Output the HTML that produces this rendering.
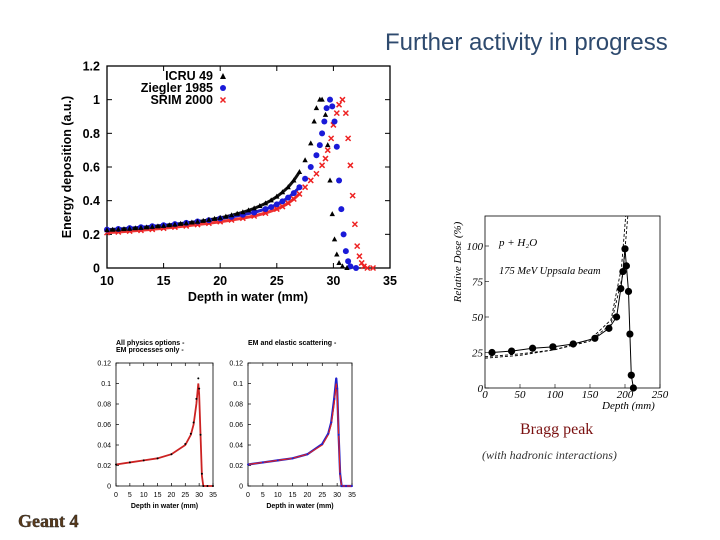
<!DOCTYPE html>
<html><head><meta charset="utf-8"><style>
body{margin:0;background:#fff;width:720px;height:540px;overflow:hidden}
svg{display:block}
</style></head><body>
<svg id="s" width="720" height="540" xmlns="http://www.w3.org/2000/svg">
<text x="385" y="50" font-family="Liberation Sans, sans-serif" font-size="24" fill="#2e4a6e">Further activity in progress</text>
<text x="520" y="434" font-family="Liberation Serif, serif" font-size="16" fill="#7a1010">Bragg peak</text>
<text x="482" y="459" font-family="Liberation Serif, serif" font-style="italic" font-size="12" fill="#333">(with hadronic interactions)</text>
<text x="18" y="527" font-family="Liberation Serif, serif" font-weight="bold" font-size="18" fill="#5a3a1a" stroke="#222" stroke-width="0.4">Geant 4</text>
<g id="main"></g>
<g id="sl"></g>
<g id="sr"></g>
<g id="bp"></g>
</svg>
<script>
const icruX=[10,10.5,11,11.5,12,12.5,13,13.5,14,14.5,15,15.5,16,16.5,17,17.5,18,18.5,19,19.5,20,20.5,21,21.5,22,22.5,23,23.5,24,24.5,25,25.5,26,26.5,27,27.5,28,28.3,28.5,28.8,29,29.3,29.5,29.7,29.9,30.1,30.3,30.5,30.8,31.2];
const icruY=[.225,.227,.229,.231,.233,.236,.238,.241,.244,.247,.25,.254,.258,.262,.266,.27,.275,.28,.286,.292,.298,.305,.313,.322,.331,.342,.354,.368,.384,.402,.424,.45,.48,.52,.57,.64,.74,.87,.95,1,1,.91,.73,.52,.32,.17,.08,.03,.01,0];
const zieX=[10,11,12,13,14,15,16,17,18,19,20,21,22,23,24,24.5,25,25.5,26,26.5,27,27.5,28,28.5,28.8,29,29.2,29.4,29.7,29.9,30.1,30.3,30.5,30.7,30.9,31.1,31.3,31.5,32];
const zieY=[.228,.232,.237,.242,.248,.254,.261,.268,.276,.284,.294,.304,.316,.33,.35,.362,.378,.396,.418,.445,.48,.53,.6,.67,.73,.8,.87,.95,1,.96,.87,.72,.52,.35,.2,.1,.04,.01,0];
const srimX=[10,11,12,13,14,15,16,17,18,19,20,21,22,23,24,25,25.5,26,26.5,27,27.5,28,28.5,29,29.3,29.5,29.8,30,30.3,30.5,30.8,31.1,31.3,31.5,31.7,31.9,32.1,32.3,32.5,32.7,33,33.5];
const srimY=[.21,.214,.219,.224,.23,.236,.243,.25,.258,.266,.275,.285,.296,.309,.326,.35,.365,.385,.41,.44,.48,.52,.56,.61,.65,.7,.77,.85,.92,.97,1,.92,.77,.61,.43,.26,.13,.07,.03,.01,0,0];
const mainXTicks=[10,15,20,25,30,35];
const mainYTicks=[0,0.2,0.4,0.6,0.8,1,1.2];
const smallX=[0,5,10,15,20,25,27,28,29,29.7,30,30.5,31,31.5,33,35];
const smallRed=[.021,.023,.025,.027,.031,.04,.05,.06,.08,.1,.09,.05,.01,0,0,0];
const smallDots=[.021,.023,.025,.027,.031,.041,.051,.062,.085,.105,.095,.05,.012,0,0,0];
const smallXTicks=[0,5,10,15,20,25,30,35];
const smallYTicks=[0,0.02,0.04,0.06,0.08,0.1,0.12];
const smallYLabels=["0","0.02","0.04","0.06","0.08","0.1","0.12"];
const braggDotX=[10,38,68,97,126,157,177,188,194,197,200,202,205,207,209,212];
const braggDotY=[25,26,28,29,31,35,42,50,70,82,98,86,68,38,9,0];
const braggDash1X=[0,50,100,150,180,195,201];
const braggDash1Y=[21,23,27,34,48,85,125];
const braggDash2X=[0,50,100,150,180,197,204];
const braggDash2Y=[22,24,27,33,45,80,125];
const braggXTicks=[0,50,100,150,200,250];
const braggYTicks=[0,25,50,75,100];
const NS='http://www.w3.org/2000/svg';
function el(p,t,a){const e=document.createElementNS(NS,t);for(const k in a)e.setAttribute(k,a[k]);p.appendChild(e);return e;}
function txt(p,x,y,s,a){const e=el(p,'text',Object.assign({x:x,y:y},a));e.textContent=s;return e;}

// MAIN
(function(){
const g=document.getElementById('main');
const X=v=>107+(v-10)*(390-107)/25, Y=v=>268-v*(268-66)/1.2;
const F={'font-family':'Liberation Sans, sans-serif','font-weight':'bold','font-size':'12.5',fill:'#000'};
let r=el(g,'rect',{x:107,y:66,width:283,height:202,fill:'none',stroke:'#000','stroke-width':1.3});

mainXTicks.forEach(v=>{el(g,'line',{x1:X(v),x2:X(v),y1:268,y2:263,stroke:'#000'});el(g,'line',{x1:X(v),x2:X(v),y1:66,y2:71,stroke:'#000'});
 const t=txt(g,X(v),285,String(v),Object.assign({'text-anchor':'middle'},F));});
mainYTicks.forEach(v=>{el(g,'line',{x1:107,x2:112,y1:Y(v),y2:Y(v),stroke:'#000'});el(g,'line',{x1:385,x2:390,y1:Y(v),y2:Y(v),stroke:'#000'});
 const t=txt(g,100,Y(v)+4.5,String(v),Object.assign({'text-anchor':'end'},F));});
let t=txt(g,248,301,'Depth in water (mm)',Object.assign({'text-anchor':'middle'},F));
t=txt(g,0,0,'Energy deposition (a.u.)',Object.assign({'text-anchor':'middle',transform:'translate(71,167) rotate(-90)'},F));
const flat=(xs,ys,c)=>{const ix=xs.map((x,i)=>i).filter(i=>xs[i]<=27);const l=el(g,'polyline',{points:ix.map(i=>X(xs[i])+','+Y(ys[i])).join(' '),fill:'none',stroke:c,'stroke-width':3});};
flat(srimX,srimY,'#e33');flat(zieX,zieY,'#22c');flat(icruX,icruY,'#111');
srimX.forEach((x,i)=>{const cx=X(x),cy=Y(srimY[i]);const p=el(g,'path',{d:`M${cx-2.5},${cy-2.5}L${cx+2.5},${cy+2.5}M${cx-2.5},${cy+2.5}L${cx+2.5},${cy-2.5}`,stroke:'#e22','stroke-width':1.5});});
zieX.forEach((x,i)=>{const c=el(g,'circle',{cx:X(x),cy:Y(zieY[i]),r:3,fill:'#1a1ad8'});});
icruX.forEach((x,i)=>{const cx=X(x),cy=Y(icruY[i]);const p=el(g,'path',{d:`M${cx},${cy-3}L${cx+2.7},${cy+2}L${cx-2.7},${cy+2}Z`,fill:'#000'});});
[['ICRU 49',80],['Ziegler 1985',92],['SRIM 2000',104]].forEach((l,i)=>{const t=txt(g,213,l[1],l[0],Object.assign({'text-anchor':'end'},F));});
el(g,'path',{d:'M223,73L226,79L220,79Z',fill:'#000'});
el(g,'circle',{cx:223,cy:88,r:3,fill:'#1a1ad8'});
el(g,'path',{d:'M220.5,97.5L225.5,102.5M220.5,102.5L225.5,97.5',stroke:'#e22','stroke-width':1.5});
})();

// SMALL CHARTS
function small(id,x0,x1,redColor,dotColor,legendLines){
const g=document.getElementById(id);
const y0=486,y1=363;
const X=v=>x0+v*(x1-x0)/35, Y=v=>y0-v*(y0-y1)/0.12;
const F={'font-family':'Liberation Sans, sans-serif','font-size':'7',fill:'#000'};
const r=el(g,'rect',{x:x0,y:y1,width:x1-x0,height:y0-y1,fill:'none',stroke:'#000','stroke-width':0.8});

smallXTicks.forEach(v=>{el(g,'line',{x1:X(v),x2:X(v),y1:y0,y2:y0-3,stroke:'#000','stroke-width':0.7});el(g,'line',{x1:X(v),x2:X(v),y1:y1,y2:y1+3,stroke:'#000','stroke-width':0.7});
 const t=txt(g,X(v),y0+11,String(v),Object.assign({'text-anchor':'middle'},F));});
smallYTicks.forEach((v,i)=>{el(g,'line',{x1:x0,x2:x0+3,y1:Y(v),y2:Y(v),stroke:'#000','stroke-width':0.7});
 const t=txt(g,x0-5,Y(v)+2.5,smallYLabels[i],Object.assign({'text-anchor':'end'},F));});
let t=txt(g,(x0+x1)/2,y0+22,'Depth in water (mm)',Object.assign({'text-anchor':'middle','font-weight':'bold'},F));
legendLines.forEach((l,i)=>{const t=txt(g,l[1],345+i*7,l[0],Object.assign({'font-weight':'bold','font-size':'6.5'},F));});
if(dotColor!=='#000'){const l=el(g,'polyline',{points:smallX.map((x,i)=>X(x)+','+Y(smallDots[i])).join(' '),fill:'none',stroke:dotColor,'stroke-width':2.2});}
const pl=el(g,'polyline',{points:smallX.map((x,i)=>X(x)+','+Y(smallRed[i])).join(' '),fill:'none',stroke:redColor,'stroke-width':dotColor==='#000'?1.8:1.2});

smallX.forEach((x,i)=>{const c=el(g,'circle',{cx:X(x),cy:Y(smallDots[i]),r:1,fill:dotColor});});
}
small('sl',116,213,'#c22','#000',[['All physics options  -',116],['EM processes only  -',116]]);
small('sr',248,352,'#d22','#2222cc',[['EM and elastic scattering  -',248]]);

// BRAGG
(function(){
const g=document.getElementById('bp');
const X=v=>485+v*(660-485)/250, Y=v=>388-v*(388-246)/100;
const F={'font-family':'Liberation Serif, serif','font-style':'italic','font-size':'11',fill:'#000'};
const r=el(g,'rect',{x:485,y:216,width:175,height:172,fill:'none',stroke:'#000','stroke-width':0.8});

braggXTicks.forEach(v=>{el(g,'line',{x1:X(v),x2:X(v),y1:388,y2:384,stroke:'#000','stroke-width':0.6});
 const t=txt(g,X(v),398,String(v),Object.assign({'text-anchor':'middle'},F));});
braggYTicks.forEach(v=>{el(g,'line',{x1:485,x2:489,y1:Y(v),y2:Y(v),stroke:'#000','stroke-width':0.6});
 const t=txt(g,483,Y(v)+4,String(v),Object.assign({'text-anchor':'end'},F));});
let t=txt(g,602,409,'Depth (mm)',F);
t=txt(g,0,0,'Relative Dose (%)',Object.assign({'text-anchor':'middle',transform:'translate(461,262) rotate(-90)'},F));
t=txt(g,499,246,'p + H₂O',F);
t=txt(g,499,274,'175 MeV Uppsala beam',Object.assign({},F,{'font-size':'10.5'}));
[[braggDash1X,braggDash1Y],[braggDash2X,braggDash2Y]].forEach(d=>{const l=el(g,'polyline',{points:d[0].map((x,i)=>X(x)+','+Math.max(216,Y(d[1][i]))).join(' '),fill:'none',stroke:'#000','stroke-width':0.9,'stroke-dasharray':'3,2'});});
const l=el(g,'polyline',{points:braggDotX.map((x,i)=>X(x)+','+Y(braggDotY[i])).join(' '),fill:'none',stroke:'#000','stroke-width':1});

braggDotX.forEach((x,i)=>{const c=el(g,'circle',{cx:X(x),cy:Y(braggDotY[i]),r:3.6,fill:'#000'});});
})();
</script>
</body></html>
